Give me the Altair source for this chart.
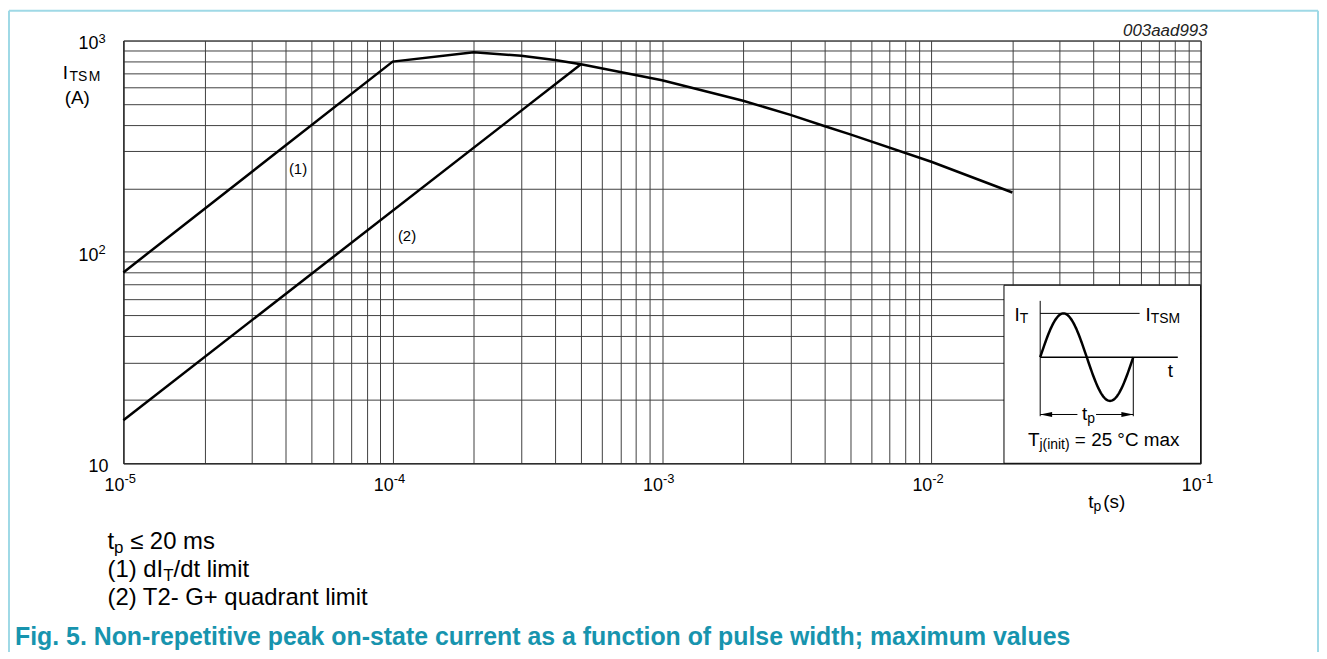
import altair as alt
import pandas as pd
import numpy as np

# ---------------- data ----------------
curve1_tp = [1e-5, 1e-4, 2e-4, 3e-4, 4e-4, 5e-4, 1e-3, 2e-3, 3e-3, 4e-3, 5e-3, 1e-2, 2e-2]
curve1_itsm = [80, 795, 880, 847, 809, 772, 649, 519, 445, 394, 360, 267, 191]
curve2_tp = [1e-5, 5e-4]
curve2_itsm = [16, 772]

series_labels = ["(1)", "(2)"]
series_label_tp = [4.45e-5, 1.13e-4]
series_label_itsm = [248, 119]

x_decades = [1e-5, 1e-4, 1e-3, 1e-2, 1e-1]
x_exponents = ["-5", "-4", "-3", "-2", "-1"]
y_decades = [100, 1000]
y_exponents = ["2", "3"]

x_grid = [m * 10.0 ** e for e in range(-5, -1) for m in range(1, 10)] + [0.1]
y_grid = [m * 10.0 ** e for e in (1, 2) for m in range(1, 10)] + [1000]

code_id = "003aad993"
caption = "Fig. 5. Non-repetitive peak on-state current as a function of pulse width; maximum values"

# ---------------- layout ----------------
W, H = 1083, 425
OX, OY = 124, 39          # page position of the plot origin
FONT = "Liberation Sans, Arial, Helvetica, sans-serif"
TEAL = "#1794ae"
FRAME = "#9fd9e6"

AW = {' ': 278, '(': 333, ')': 333, '/': 278, '=': 584, '+': 584, '-': 333, '.': 278,
      '°': 400, '≤': 549}
for d in "0123456789":
    AW[d] = 556
AW.update({'a': 556, 'b': 556, 'c': 500, 'd': 556, 'e': 556, 'f': 278, 'g': 556, 'h': 556,
           'i': 222, 'j': 222, 'k': 500, 'l': 222, 'm': 833, 'n': 556, 'o': 556, 'p': 556,
           'q': 556, 'r': 333, 's': 500, 't': 278, 'u': 556, 'v': 500, 'w': 722, 'x': 500,
           'y': 500, 'A': 667, 'C': 722, 'G': 778, 'I': 278, 'M': 833, 'S': 667, 'T': 611})


def tw(s, size):
    return sum(AW.get(c, 556) for c in s) * size / 1000.0


one = pd.DataFrame({"k": [0]})


def runs_at(runs, data, x_enc, y_enc, color="black", weight="normal", style="normal"):
    """Draw a line of text made of runs (text, size, dy[, gap]) placed one after another."""
    out = []
    dx = 0.0
    for run in runs:
        text, size, dy = run[0], run[1], run[2]
        gap = run[3] if len(run) > 3 else 0
        dx += gap
        out.append(
            alt.Chart(data).mark_text(
                text=text, align="left", baseline="middle", dx=dx, dy=dy,
                fontSize=size, font=FONT, color=color, fontWeight=weight, fontStyle=style
            ).encode(x=x_enc, y=y_enc)
        )
        dx += tw(text, size)
    return out


def page_runs(runs, px, py, **kw):
    return runs_at(runs, one, alt.value(px - OX), alt.value(py - OY), **kw)


# ---------------- main plot ----------------
xs = alt.Scale(type="log", domain=[1e-5, 1e-1], nice=False)
ys = alt.Scale(type="log", domain=[10, 1000], nice=False)
GRID = "#404040"
xaxis = alt.Axis(values=x_grid, labels=False, ticks=False, title=None, grid=True,
                 gridColor=GRID, gridWidth=1, domainColor="#222222", domainWidth=1)
yaxis = alt.Axis(values=y_grid, labels=False, ticks=False, title=None, grid=True,
                 gridColor=GRID, gridWidth=1, domainColor="#222222", domainWidth=1)

curves_df = pd.DataFrame({
    "tp": curve1_tp + curve2_tp,
    "itsm": curve1_itsm + curve2_itsm,
    "series": ["(1)"] * len(curve1_tp) + ["(2)"] * len(curve2_tp),
})
curves = alt.Chart(curves_df).mark_line(color="black", strokeWidth=2.5).encode(
    x=alt.X("tp:Q", scale=xs, axis=xaxis),
    y=alt.Y("itsm:Q", scale=ys, axis=yaxis),
    detail="series:N",
)

lab_df = pd.DataFrame({"tp": series_label_tp, "itsm": series_label_itsm, "lab": series_labels})
series_text = alt.Chart(lab_df).mark_text(fontSize=15, font=FONT, color="black",
                                          align="center", baseline="middle").encode(
    x=alt.X("tp:Q", scale=xs), y=alt.Y("itsm:Q", scale=ys), text="lab:N")

xt_df = pd.DataFrame({"v": x_decades, "e": x_exponents})
xbase = alt.Chart(xt_df).mark_text(text="10", align="right", baseline="middle", dx=1,
                                   fontSize=18, font=FONT, color="black").encode(
    x=alt.X("v:Q", scale=xs), y=alt.value(H + 23))
xexp = alt.Chart(xt_df).mark_text(align="left", baseline="middle", dx=1,
                                  fontSize=13, font=FONT, color="black").encode(
    x=alt.X("v:Q", scale=xs), y=alt.value(H + 16), text="e:N")

yt_df = pd.DataFrame({"v": y_decades, "e": y_exponents})
ybase = alt.Chart(yt_df).mark_text(text="10", align="right", baseline="middle", dy=4,
                                   fontSize=18, font=FONT, color="black").encode(
    x=alt.value(-25), y=alt.Y("v:Q", scale=ys))
yexp = alt.Chart(yt_df).mark_text(align="left", baseline="middle", dy=-2,
                                  fontSize=13, font=FONT, color="black").encode(
    x=alt.value(-25), y=alt.Y("v:Q", scale=ys), text="e:N")
ybottom = alt.Chart(one).mark_text(text="10", align="right", baseline="middle",
                                   fontSize=18, font=FONT, color="black").encode(
    x=alt.value(-15), y=alt.value(H + 4))

annotations = []
annotations += page_runs([("I", 19, 0), ("TS", 14, 4, 1.5), ("M", 14, 4, 1.5)], 63, 72)
annotations += page_runs([("(A)", 19, 0)], 65, 97)
annotations += page_runs([("t", 19, 0), ("p", 14, 5), ("(s)", 19, 0, 2)], 1094, 503)
annotations.append(
    alt.Chart(one).mark_text(text=code_id, align="right", baseline="middle", fontSize=17,
                             fontStyle="italic", font=FONT, color="#222222").encode(
        x=alt.value(1214 - OX), y=alt.value(29.5 - OY)))
annotations += page_runs([("t", 24, 0), ("p", 17, 6), ("≤ 20 ms", 24, 0, tw(" ", 24))], 108, 543)
annotations += page_runs([("(1) dI", 24, 0), ("T", 17, 6), ("/dt limit", 24, 0)], 108, 571)
annotations += page_runs([("(2) T2- G+ quadrant limit", 24, 0)], 108, 599)
annotations += page_runs([(caption, 25, 0)], 15, 639, color=TEAL, weight="bold")

frame = [
    alt.Chart(one).mark_rule(color=FRAME, strokeWidth=2).encode(
        x=alt.value(9 - OX), y=alt.value(9 - OY), y2=alt.value(700)),
    alt.Chart(one).mark_rule(color=FRAME, strokeWidth=2).encode(
        x=alt.value(9 - OX), x2=alt.value(1325 - OX), y=alt.value(9 - OY)),
    alt.Chart(one).mark_rule(color=FRAME, strokeWidth=2).encode(
        x=alt.value(1325 - OX), y=alt.value(9 - OY), y2=alt.value(700)),
]

main = alt.layer(curves, series_text, xbase, xexp, ybase, yexp, ybottom, *annotations, *frame)

# ---------------- inset schematic (own coordinates: t = one period, v = amplitude) ----------------
ixs = alt.Scale(domain=[0, 1], range=[921.7, 1015.3], nice=False, zero=False)
iys = alt.Scale(domain=[-1, 1], range=[362.3, 274.3], nice=False, zero=False)


def IX(f):
    return alt.X(f, scale=ixs, axis=None)


def IY(f):
    return alt.Y(f, scale=iys, axis=None)


box_df = pd.DataFrame({"t": [-0.389], "t2": [1.723], "v": [-2.425], "v2": [1.643]})
box = alt.Chart(box_df).mark_rect(fill="white", stroke="black", strokeWidth=1).encode(
    x=IX("t:Q"), x2="t2:Q", y=IY("v:Q"), y2="v2:Q")

t_wave = np.linspace(0, 1, 121)
wave_df = pd.DataFrame({"t": t_wave, "v": np.sin(2 * np.pi * t_wave)})
wave = alt.Chart(wave_df).mark_line(color="black", strokeWidth=2.5).encode(
    x=IX("t:Q"), y=IY("v:Q"))

hrules_df = pd.DataFrame({"t": [0, 0, 0, 0.60], "t2": [1.478, 1.068, 0.40, 1.0],
                          "v": [0, 1, -1.31, -1.31], "w": [1.5, 1, 1, 1]})
hrules = alt.Chart(hrules_df).mark_rule(color="black").encode(
    x=IX("t:Q"), x2="t2:Q", y=IY("v:Q"), strokeWidth=alt.StrokeWidth("w:Q", scale=None))
vrules_df = pd.DataFrame({"t": [0, 1], "v": [1.286, 0], "v2": [-1.35, -1.35]})
vrules = alt.Chart(vrules_df).mark_rule(color="black", strokeWidth=1).encode(
    x=IX("t:Q"), y=IY("v:Q"), y2="v2:Q")

head_l = alt.Chart(pd.DataFrame({"t": [0.064], "v": [-1.31]})).mark_point(
    shape="M -1 0 L 1 -0.4 L 1 0.4 Z", filled=True, size=144, color="black", opacity=1).encode(
    x=IX("t:Q"), y=IY("v:Q"))
head_r = alt.Chart(pd.DataFrame({"t": [0.936], "v": [-1.31]})).mark_point(
    shape="M 1 0 L -1 -0.4 L -1 0.4 Z", filled=True, size=144, color="black", opacity=1).encode(
    x=IX("t:Q"), y=IY("v:Q"))


def inset_runs(runs, t, v):
    d = pd.DataFrame({"t": [t], "v": [v]})
    return runs_at(runs, d, IX("t:Q"), IY("v:Q"))


inset_text = []
inset_text += inset_runs([("I", 19, 0), ("T", 14, 4)], -0.275, 0.961)
inset_text += inset_runs([("I", 19, 0), ("TSM", 14, 4)], 1.132, 0.961)
inset_text += inset_runs([("t", 19, 0)], 1.371, -0.323)
inset_text += inset_runs([("t", 19, 0), ("p", 14, 5)], 0.45, -1.289)
inset_text += inset_runs([("T", 19, 0), ("j(init)", 14, 5), ("= 25 °C max", 19, 0, tw(" ", 19))],
                         -0.132, -1.895)

inset = alt.layer(box, wave, hrules, vrules, head_l, head_r, *inset_text)

chart = alt.layer(main, inset).resolve_scale(x="independent", y="independent").properties(
    width=W, height=H,
    autosize=alt.AutoSizeParams(type="none"),
    padding={"left": OX - 8, "top": OY - 8, "right": 119, "bottom": 188},
    background="white",
).configure_view(stroke="#333333", strokeWidth=1)

chart.save("out.html", embed_options={"renderer": "svg", "actions": False})
